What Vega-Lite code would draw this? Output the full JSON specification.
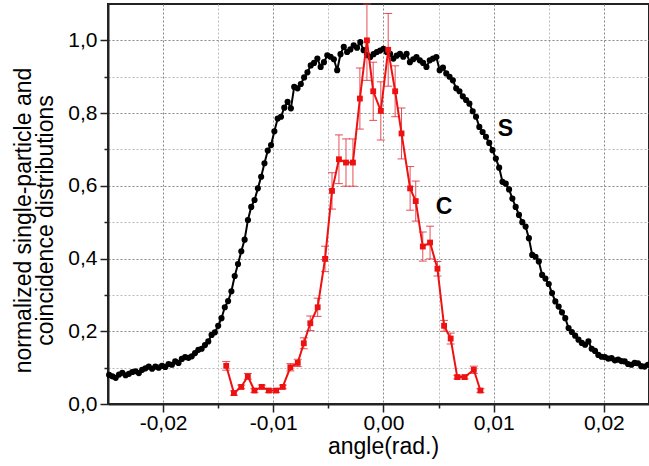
{
  "$schema": "https://vega.github.io/schema/vega-lite/v6.json",
  "width": 541,
  "height": 400,
  "autosize": {"type": "none"},
  "padding": {"left": 108, "top": 4, "right": 0, "bottom": 62},
  "background": "white",
  "config": {
    "view": {"stroke": "#222", "strokeWidth": 2},
    "axis": {
      "labelFont": "Liberation Sans",
      "labelFontSize": 21,
      "labelColor": "black",
      "titleFont": "Liberation Sans",
      "titleFontSize": 23,
      "titleFontWeight": "normal",
      "titleColor": "black",
      "domainColor": "#222",
      "domainWidth": 2,
      "tickColor": "#222",
      "tickWidth": 1.5
    }
  },
  "datasets": {
    "S": [
      {"x": -0.0249, "y": 0.080}, {"x": -0.0246, "y": 0.076}, {"x": -0.0243, "y": 0.072}, {"x": -0.0240, "y": 0.081},
      {"x": -0.0237, "y": 0.086}, {"x": -0.0234, "y": 0.079}, {"x": -0.0231, "y": 0.083}, {"x": -0.0228, "y": 0.088},
      {"x": -0.0225, "y": 0.090}, {"x": -0.0222, "y": 0.085}, {"x": -0.0219, "y": 0.094}, {"x": -0.0216, "y": 0.098},
      {"x": -0.0213, "y": 0.103}, {"x": -0.0210, "y": 0.097}, {"x": -0.0207, "y": 0.103}, {"x": -0.0204, "y": 0.100},
      {"x": -0.0201, "y": 0.105}, {"x": -0.0198, "y": 0.102}, {"x": -0.0195, "y": 0.110}, {"x": -0.0192, "y": 0.108},
      {"x": -0.0189, "y": 0.117}, {"x": -0.0186, "y": 0.113}, {"x": -0.0183, "y": 0.124}, {"x": -0.0180, "y": 0.129},
      {"x": -0.0177, "y": 0.127}, {"x": -0.0174, "y": 0.131}, {"x": -0.0171, "y": 0.140}, {"x": -0.0168, "y": 0.149},
      {"x": -0.0165, "y": 0.152}, {"x": -0.0162, "y": 0.162}, {"x": -0.0159, "y": 0.172}, {"x": -0.0156, "y": 0.190},
      {"x": -0.0153, "y": 0.197}, {"x": -0.0150, "y": 0.215}, {"x": -0.0147, "y": 0.236}, {"x": -0.0144, "y": 0.266},
      {"x": -0.0141, "y": 0.283}, {"x": -0.0138, "y": 0.310}, {"x": -0.0135, "y": 0.352}, {"x": -0.0132, "y": 0.385},
      {"x": -0.0129, "y": 0.420}, {"x": -0.0126, "y": 0.452}, {"x": -0.0123, "y": 0.506}, {"x": -0.0120, "y": 0.542},
      {"x": -0.0117, "y": 0.561}, {"x": -0.0114, "y": 0.593}, {"x": -0.0111, "y": 0.625}, {"x": -0.0108, "y": 0.662},
      {"x": -0.0105, "y": 0.697}, {"x": -0.0102, "y": 0.712}, {"x": -0.0099, "y": 0.750}, {"x": -0.0096, "y": 0.785},
      {"x": -0.0093, "y": 0.790}, {"x": -0.0090, "y": 0.815}, {"x": -0.0087, "y": 0.831}, {"x": -0.0084, "y": 0.813},
      {"x": -0.0081, "y": 0.872}, {"x": -0.0078, "y": 0.868}, {"x": -0.0075, "y": 0.880}, {"x": -0.0072, "y": 0.898},
      {"x": -0.0069, "y": 0.912}, {"x": -0.0066, "y": 0.931}, {"x": -0.0063, "y": 0.938}, {"x": -0.0060, "y": 0.950},
      {"x": -0.0057, "y": 0.927}, {"x": -0.0054, "y": 0.940}, {"x": -0.0051, "y": 0.959}, {"x": -0.0048, "y": 0.955},
      {"x": -0.0045, "y": 0.948}, {"x": -0.0042, "y": 0.918}, {"x": -0.0039, "y": 0.962}, {"x": -0.0036, "y": 0.982},
      {"x": -0.0033, "y": 0.968}, {"x": -0.0030, "y": 0.975}, {"x": -0.0027, "y": 0.986}, {"x": -0.0024, "y": 0.980},
      {"x": -0.0021, "y": 0.995}, {"x": -0.0018, "y": 0.973}, {"x": -0.0015, "y": 0.960}, {"x": -0.0012, "y": 0.954},
      {"x": -0.0009, "y": 0.962}, {"x": -0.0006, "y": 0.968}, {"x": -0.0003, "y": 0.972}, {"x": 0.0000, "y": 0.977},
      {"x": 0.0003, "y": 0.968}, {"x": 0.0006, "y": 0.963}, {"x": 0.0009, "y": 0.950}, {"x": 0.0012, "y": 0.958},
      {"x": 0.0015, "y": 0.963}, {"x": 0.0018, "y": 0.955}, {"x": 0.0021, "y": 0.963}, {"x": 0.0024, "y": 0.940},
      {"x": 0.0027, "y": 0.948}, {"x": 0.0030, "y": 0.954}, {"x": 0.0033, "y": 0.945}, {"x": 0.0036, "y": 0.938},
      {"x": 0.0039, "y": 0.927}, {"x": 0.0042, "y": 0.945}, {"x": 0.0045, "y": 0.950}, {"x": 0.0048, "y": 0.954},
      {"x": 0.0051, "y": 0.918}, {"x": 0.0054, "y": 0.925}, {"x": 0.0057, "y": 0.909}, {"x": 0.0060, "y": 0.900},
      {"x": 0.0063, "y": 0.890}, {"x": 0.0066, "y": 0.868}, {"x": 0.0069, "y": 0.860}, {"x": 0.0072, "y": 0.846},
      {"x": 0.0075, "y": 0.836}, {"x": 0.0078, "y": 0.826}, {"x": 0.0081, "y": 0.805}, {"x": 0.0084, "y": 0.790},
      {"x": 0.0087, "y": 0.762}, {"x": 0.0090, "y": 0.748}, {"x": 0.0093, "y": 0.735}, {"x": 0.0096, "y": 0.718},
      {"x": 0.0099, "y": 0.698}, {"x": 0.0102, "y": 0.675}, {"x": 0.0105, "y": 0.650}, {"x": 0.0108, "y": 0.611},
      {"x": 0.0111, "y": 0.606}, {"x": 0.0114, "y": 0.590}, {"x": 0.0117, "y": 0.565}, {"x": 0.0120, "y": 0.542},
      {"x": 0.0123, "y": 0.520}, {"x": 0.0126, "y": 0.500}, {"x": 0.0129, "y": 0.488}, {"x": 0.0132, "y": 0.456},
      {"x": 0.0135, "y": 0.410}, {"x": 0.0138, "y": 0.405}, {"x": 0.0141, "y": 0.392}, {"x": 0.0144, "y": 0.355},
      {"x": 0.0147, "y": 0.345}, {"x": 0.0150, "y": 0.330}, {"x": 0.0153, "y": 0.305}, {"x": 0.0156, "y": 0.282},
      {"x": 0.0159, "y": 0.268}, {"x": 0.0162, "y": 0.252}, {"x": 0.0165, "y": 0.236}, {"x": 0.0168, "y": 0.209},
      {"x": 0.0171, "y": 0.198}, {"x": 0.0174, "y": 0.188}, {"x": 0.0177, "y": 0.177}, {"x": 0.0180, "y": 0.168},
      {"x": 0.0183, "y": 0.163}, {"x": 0.0186, "y": 0.172}, {"x": 0.0189, "y": 0.152}, {"x": 0.0192, "y": 0.146},
      {"x": 0.0195, "y": 0.135}, {"x": 0.0198, "y": 0.130}, {"x": 0.0201, "y": 0.129}, {"x": 0.0204, "y": 0.125},
      {"x": 0.0207, "y": 0.126}, {"x": 0.0210, "y": 0.120}, {"x": 0.0213, "y": 0.122}, {"x": 0.0216, "y": 0.118},
      {"x": 0.0219, "y": 0.117}, {"x": 0.0222, "y": 0.110}, {"x": 0.0225, "y": 0.108}, {"x": 0.0228, "y": 0.113},
      {"x": 0.0231, "y": 0.112}, {"x": 0.0234, "y": 0.104}, {"x": 0.0237, "y": 0.103}, {"x": 0.0240, "y": 0.108}
    ],
    "C": [
      {"x": -0.01427, "y": 0.105, "err": 0.012}, {"x": -0.01357, "y": 0.030, "err": 0.006},
      {"x": -0.01291, "y": 0.047, "err": 0.005}, {"x": -0.01231, "y": 0.076, "err": 0.008},
      {"x": -0.01171, "y": 0.037, "err": 0.005}, {"x": -0.01104, "y": 0.047, "err": 0.005},
      {"x": -0.0104, "y": 0.037, "err": 0.005}, {"x": -0.00974, "y": 0.037, "err": 0.005},
      {"x": -0.00914, "y": 0.047, "err": 0.005}, {"x": -0.00845, "y": 0.101, "err": 0.01},
      {"x": -0.00778, "y": 0.113, "err": 0.01}, {"x": -0.00723, "y": 0.167, "err": 0.015},
      {"x": -0.00664, "y": 0.222, "err": 0.02}, {"x": -0.00597, "y": 0.266, "err": 0.025},
      {"x": -0.0053, "y": 0.399, "err": 0.035}, {"x": -0.00467, "y": 0.586, "err": 0.05},
      {"x": -0.00404, "y": 0.673, "err": 0.067}, {"x": -0.0034, "y": 0.664, "err": 0.065},
      {"x": -0.00277, "y": 0.664, "err": 0.065}, {"x": -0.00214, "y": 0.840, "err": 0.084},
      {"x": -0.0015, "y": 1.0, "err": 0.11}, {"x": -0.00093, "y": 0.860, "err": 0.08},
      {"x": -0.00024, "y": 0.806, "err": 0.08}, {"x": 0.00043, "y": 0.974, "err": 0.1},
      {"x": 0.00106, "y": 0.860, "err": 0.07}, {"x": 0.00164, "y": 0.744, "err": 0.07},
      {"x": 0.00242, "y": 0.593, "err": 0.06}, {"x": 0.00293, "y": 0.558, "err": 0.055},
      {"x": 0.00357, "y": 0.433, "err": 0.04}, {"x": 0.00423, "y": 0.444, "err": 0.045},
      {"x": 0.0049, "y": 0.372, "err": 0.02}, {"x": 0.0055, "y": 0.215, "err": 0.015},
      {"x": 0.0061, "y": 0.180, "err": 0.015}, {"x": 0.0067, "y": 0.074, "err": 0.005},
      {"x": 0.00737, "y": 0.074, "err": 0.005}, {"x": 0.0082, "y": 0.094, "err": 0.01},
      {"x": 0.0088, "y": 0.037, "err": 0.005}
    ],
    "L": [
      {"x": 0.01108, "y": 0.756, "label": "S"},
      {"x": 0.00551, "y": 0.542, "label": "C"}
    ]
  },
  "layer": [
    {
      "data": {"name": "S"},
      "mark": {"type": "line", "color": "black", "strokeWidth": 2},
      "encoding": {
        "x": {
          "field": "x", "type": "quantitative",
          "scale": {"domain": [-0.025, 0.0241], "nice": false, "zero": false},
          "axis": {
            "orient": "bottom", "values": [-0.015, -0.005, 0.005, 0.015],
            "labels": false, "tickSize": 4, "domain": false, "title": null,
            "grid": true, "gridColor": "#bbbbbb", "gridDash": [2, 2], "gridWidth": 1
          }
        },
        "y": {
          "field": "y", "type": "quantitative",
          "scale": {"domain": [0, 1.1], "nice": false, "clamp": true},
          "axis": {
            "orient": "left", "values": [0.1, 0.3, 0.5, 0.7, 0.9],
            "labels": false, "tickSize": 4, "domain": false, "title": null,
            "grid": true, "gridColor": "#bbbbbb", "gridDash": [2, 2], "gridWidth": 1
          }
        }
      }
    },
    {
      "data": {"name": "S"},
      "mark": {"type": "circle", "color": "black", "size": 38, "opacity": 1},
      "encoding": {
        "x": {"field": "x", "type": "quantitative", "axis": null},
        "y": {"field": "y", "type": "quantitative", "axis": null}
      }
    },
    {
      "data": {"name": "C"},
      "mark": {"type": "errorbar", "ticks": {"size": 8}, "color": "#e0303a", "thickness": 1, "opacity": 0.85},
      "encoding": {
        "x": {"field": "x", "type": "quantitative", "axis": null},
        "y": {"field": "y", "type": "quantitative", "axis": null},
        "yError": {"field": "err"}
      }
    },
    {
      "data": {"name": "C"},
      "mark": {"type": "line", "color": "#ee1111", "strokeWidth": 2, "point": {"shape": "square", "size": 34, "color": "#ee1111", "filled": true}},
      "encoding": {
        "x": {
          "field": "x", "type": "quantitative",
          "axis": {
            "orient": "bottom", "values": [-0.02, -0.01, 0, 0.01, 0.02],
            "tickSize": 8, "labelPadding": 0, "labelBaseline": "top",
            "labelExpr": "replace(replace(format(datum.value, '.2f'), '.', ','), '\u2212', '-')",
            "grid": true, "gridColor": "#888888", "gridDash": [2, 2], "gridWidth": 1,
            "title": "angle(rad.)", "titleX": 275, "titleY": 49, "titleBaseline": "alphabetic"
          }
        },
        "y": {
          "field": "y", "type": "quantitative",
          "axis": {
            "orient": "left", "values": [0, 0.2, 0.4, 0.6, 0.8, 1.0],
            "tickSize": 8, "labelPadding": 3,
            "labelExpr": "replace(format(datum.value, '.1f'), '.', ',')",
            "grid": true, "gridColor": "#888888", "gridDash": [2, 2], "gridWidth": 1,
            "title": ["normalized single-particle and", "coincidence distributions"],
            "titleAngle": -90, "titleX": -96, "titleY": 216, "titleBaseline": "top",
            "titleAlign": "center", "titleLineHeight": 22
          }
        }
      }
    },
    {
      "data": {"name": "L"},
      "mark": {"type": "text", "font": "Liberation Sans", "fontSize": 23, "fontWeight": "bold", "color": "black"},
      "encoding": {
        "x": {"field": "x", "type": "quantitative", "axis": null},
        "y": {"field": "y", "type": "quantitative", "axis": null},
        "text": {"field": "label"}
      }
    }
  ],
  "resolve": {"axis": {"x": "independent", "y": "independent"}}
}
